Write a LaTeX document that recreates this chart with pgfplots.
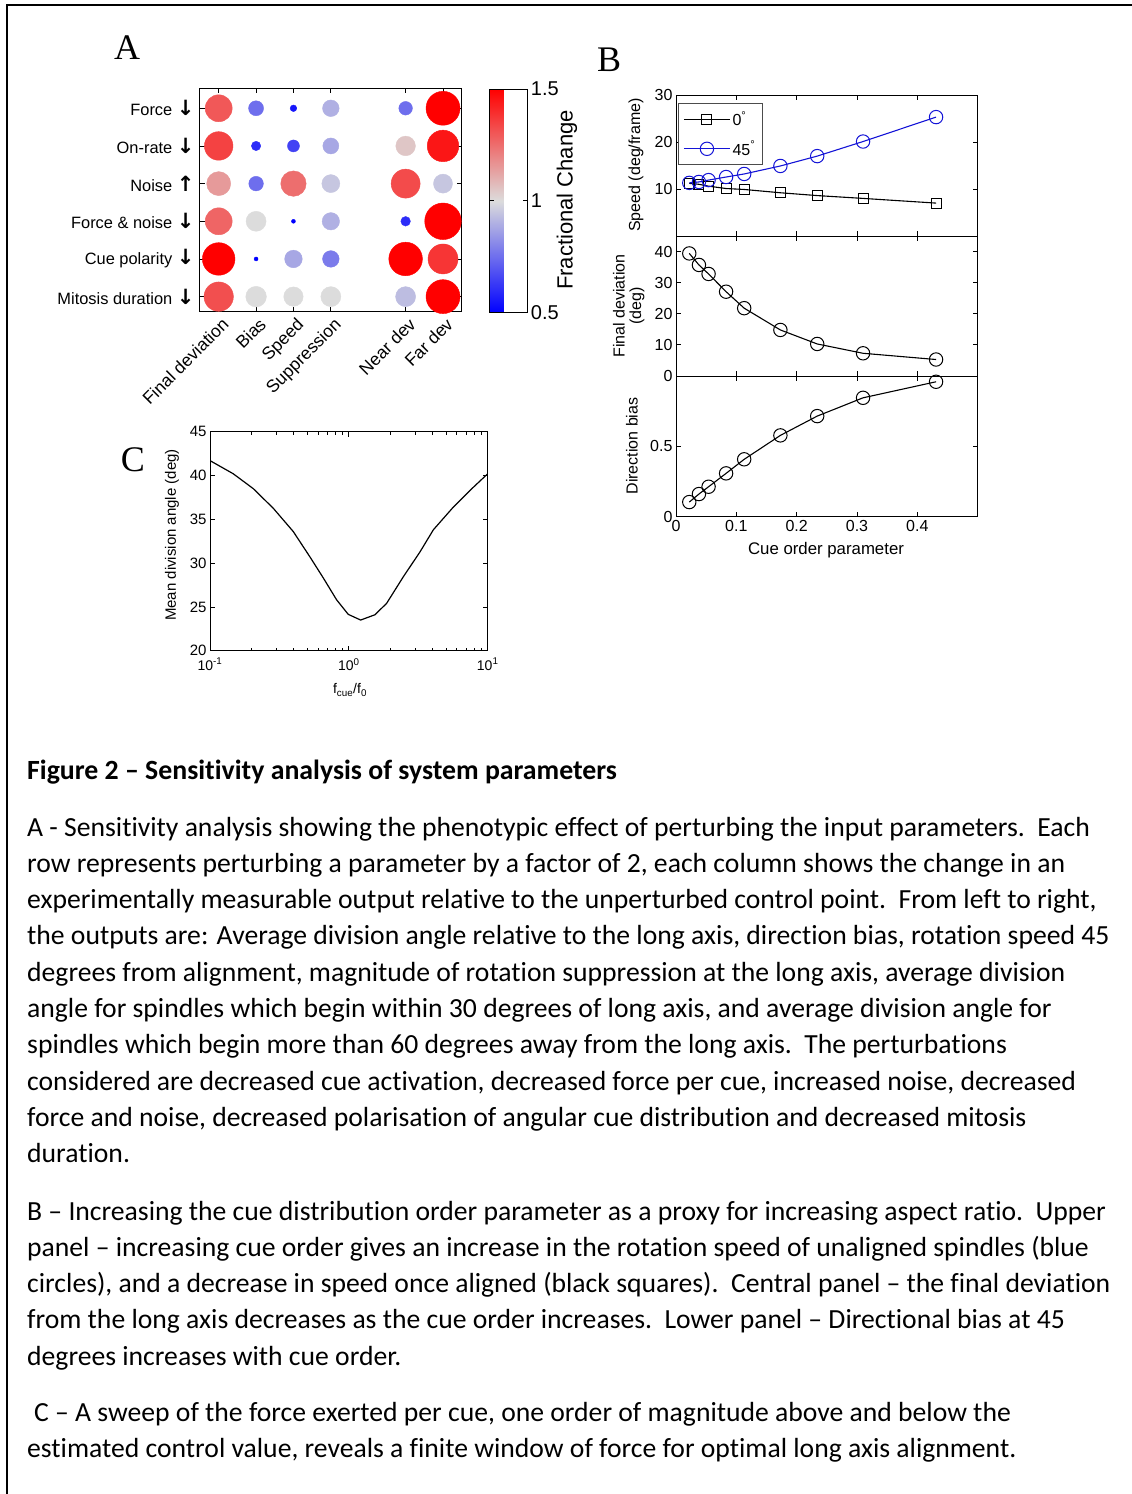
\documentclass[border=0pt]{standalone}
\usepackage{fontspec}
\setmainfont{Carlito}[Ligatures=NoCommon]
\newfontfamily\arial{Liberation Sans}
\newfontfamily\tnr{Liberation Serif}
\newfontfamily\dejavu{DejaVu Sans}
\usepackage{pgfplots}
\pgfplotsset{compat=1.18}
\usepackage{pgfplotstable}
\newcommand\af[1]{\arial\fontsize{#1}{#1}\selectfont}
\newcommand\dn{{\dejavu\bfseries\fontsize{21}{21}\selectfont ↓}}
\newcommand\up{{\dejavu\bfseries\fontsize{21}{21}\selectfont ↑}}
\newcommand\capl[3]{\node[anchor=base west,inner sep=0pt,font=\fontsize{27.65}{36.3}\selectfont] at (#1pt,-#2pt) {#3};}
\definecolor{mblue}{RGB}{20,20,215}

\pgfplotstableread{
x y v r
1 1 1.30 13.5
2 1 0.75 7.5
3 1 0.55 3.3
4 1 0.90 8.3
6 1 0.75 6.8
7 1 1.60 17
1 2 1.35 14.3
2 2 0.60 4.7
3 2 0.65 6
4 2 0.88 8
6 2 1.05 9.8
7 2 1.45 15.8
1 3 1.15 12
2 3 0.75 7.3
3 3 1.25 12.7
4 3 0.95 9
6 3 1.33 14.5
7 3 0.95 9.5
1 4 1.27 13.5
2 4 1.00 10
3 4 0.50 2
4 4 0.90 8.7
6 4 0.60 4.8
7 4 1.60 18.3
1 5 1.50 16.3
2 5 0.50 2
3 5 0.88 8.8
4 5 0.78 8.3
6 5 1.50 16.8
7 5 1.38 15
1 6 1.32 14.7
2 6 1.00 10.3
3 6 1.00 9.7
4 6 1.00 10
6 6 0.93 10
7 6 1.50 17
}\bubbles

\pgfplotstableread{
x s0 s45 dev bias
0.022 11.2 11.3 39.4 0.104
0.038 11.0 11.5 35.7 0.161
0.054 10.6 11.9 32.8 0.213
0.083 10.1 12.55 27.1 0.308
0.113 9.9 13.2 21.8 0.408
0.173 9.2 14.9 14.8 0.578
0.234 8.6 17.0 10.3 0.715
0.310 8.0 20.1 7.3 0.845
0.431 7.0 25.3 5.3 0.959
}\Bdata

\pgfplotstableread{
f ang
0.1 41.7
0.147 40.2
0.205 38.5
0.286 36.25
0.398 33.6
0.525 30.7
0.655 28.3
0.817 25.8
0.99 24.15
1.216 23.5
1.54 24.1
1.87 25.4
2.47 28.45
3.26 31.3
4.06 33.8
5.66 36.4
7.46 38.3
10 40.2
}\Cdata

\pgfplotsset{
  /pgf/number format/assume math mode=true,
  colormap={bwr}{rgb255(0cm)=(0,0,255); rgb255(1cm)=(220,220,220); rgb255(2cm)=(255,0,0)},
  mstyle/.style={scale only axis, anchor=north west, axis line style={line width=1pt},
    tick style={line width=0.8pt, black}, major tick length=5pt, minor tick length=3pt,
    tick align=inside},
}

\begin{document}
\begin{tikzpicture}
\useasboundingbox (0,0) rectangle (1132pt,-1494pt);
\fill[white] (0,0) rectangle (1132pt,-1494pt);
\draw[line width=1.8pt] (6pt,-5pt) -- (1132pt,-5pt);
\draw[line width=1.8pt] (7pt,-5pt) -- (7pt,-1494pt);

% panel letters
\node[font=\tnr\fontsize{36}{36}\selectfont] at (127pt,-48pt) {A};
\node[font=\tnr\fontsize{36}{36}\selectfont] at (609pt,-60pt) {B};
\node[font=\tnr\fontsize{36}{36}\selectfont] at (133pt,-460pt) {C};

% Panel A
\begin{axis}[mstyle, at={(200pt,-88.3pt)}, width=261.7pt, height=223.4pt,
  xmin=0.5, xmax=7.5, ymin=0.47, ymax=6.4, y dir=reverse,
  xtick={1,2,3,4,6,7},
  xticklabels={Final deviation,Bias,Speed,Suppression,Near dev,Far dev},
  xticklabel style={rotate=45, anchor=north east, font=\af{17.5}, inner sep=2pt, yshift=-3pt},
  ytick={1,2,3,4,5,6},
  yticklabels={Force \dn,On-rate \dn,Noise \up,Force \& noise \dn,Cue polarity \dn,Mitosis duration \dn},
  yticklabel style={font=\af{16.4}, xshift=-2pt},
  point meta min=0.5, point meta max=1.5,
  colorbar,
  colorbar style={at={(parent axis.north east)}, anchor=north west, xshift=19.5pt, yshift=-0.7pt,
    scale only axis, width=37.7pt, height=223.7pt, ytick={0.5,1,1.5}, yticklabels={0.5,1,1.5},
    yticklabel style={font=\af{20}, xshift=0pt}, axis line style={line width=1pt},
    major tick length=4pt, tick style={black, line width=0.8pt}},
]
\addplot[scatter, only marks, mark=*, point meta=\thisrow{v},
  scatter/use mapped color={draw=mapped color, fill=mapped color},
  visualization depends on={\thisrow{r} \as \perpointmarksize},
  scatter/@pre marker code/.append style={/tikz/mark size=\perpointmarksize}]
  table[x=x, y=y] {\bubbles};
\end{axis}
\node[rotate=90, font=\af{22}] at (567pt,-200pt) {Fractional Change};

% Panel B top
\begin{axis}[mstyle, at={(676pt,-95pt)}, width=301.7pt, height=141pt,
  xmin=0, xmax=0.5, ymin=0, ymax=30, xtick={0,0.1,0.2,0.3,0.4}, xticklabels={},
  ytick={10,20,30}, yticklabel style={font=\af{16}},
  legend style={at={(0.0066,0.943)}, anchor=north west, draw=black!70, line width=0.8pt,
    font=\af{16}, row sep=10pt, inner xsep=5pt, inner ysep=6pt},
  legend cell align=left,
  legend image code/.code={\draw[mark repeat=2,mark phase=2,#1] plot coordinates {(0pt,0pt) (23pt,0pt) (46pt,0pt)};},
]
\addplot[black, line width=1.1pt, mark=square, mark size=5pt, mark options={fill=white, line width=1pt}]
  table[x=x, y=s0] {\Bdata};
\addlegendentry{0\textsuperscript{°}}
\addplot[mblue, line width=1.1pt, mark=o, mark size=6.7pt, mark options={fill=white, line width=1pt}]
  table[x=x, y=s45] {\Bdata};
\addlegendentry{45\textsuperscript{°}}
\end{axis}

% Panel B middle
\begin{axis}[mstyle, at={(676pt,-236pt)}, width=301.7pt, height=140pt,
  xmin=0, xmax=0.5, ymin=0, ymax=45, xtick={0,0.1,0.2,0.3,0.4}, xticklabels={},
  ytick={0,10,20,30,40}, yticklabel style={font=\af{16}}]
\addplot[black, line width=1.1pt, mark=o, mark size=6.7pt, mark options={fill=white, line width=1pt}]
  table[x=x, y=dev] {\Bdata};
\end{axis}

% Panel B bottom
\begin{axis}[mstyle, at={(676pt,-376pt)}, width=301.7pt, height=140.7pt,
  xmin=0, xmax=0.5, ymin=0, ymax=1, xtick={0,0.1,0.2,0.3,0.4},
  xticklabels={0,0.1,0.2,0.3,0.4}, xticklabel style={font=\af{16}},
  ytick={0,0.5,1}, yticklabels={0,0.5,{}}, yticklabel style={font=\af{16}}]
\addplot[black, line width=1.1pt, mark=o, mark size=6.7pt, mark options={fill=white, line width=1pt}]
  table[x=x, y=bias] {\Bdata};
\end{axis}
\node[rotate=90, font=\af{16}] at (636pt,-165pt) {Speed (deg/frame)};
\node[rotate=90, font=\af{16}] at (619pt,-306pt) {Final deviation};
\node[rotate=90, font=\af{16}] at (637pt,-306pt) {(deg)};
\node[rotate=90, font=\af{16}] at (632pt,-446pt) {Direction bias};
\node[font=\af{16.8}] at (826pt,-550pt) {Cue order parameter};

% Panel C
\begin{axis}[mstyle, at={(210pt,-431.7pt)}, width=277.7pt, height=219pt,
  xmode=log, xmin=0.1, xmax=10, ymin=20, ymax=45, ytick={20,25,30,35,40,45},
  xtick={0.1,1,10}, xticklabels={10\textsuperscript{-1},10\textsuperscript{0},10\textsuperscript{1}},
  xticklabel style={font=\af{14}, yshift=-4pt}, yticklabel style={font=\af{15}}]
\addplot[black, line width=1.2pt] table[x=f, y=ang] {\Cdata};
\end{axis}
\node[rotate=90, font=\af{15}] at (172pt,-535pt) {Mean division angle (deg)};
\node[font=\af{14}] at (350pt,-690pt) {f\textsubscript{cue}/f\textsubscript{0}};

% Caption
\node[anchor=base west,inner sep=0pt,font=\fontsize{27.8}{36.3}\selectfont\bfseries] at (27pt,-779pt) {Figure 2 – Sensitivity analysis of system parameters};
\capl{27}{836}{A - Sensitivity analysis showing the phenotypic effect of perturbing the input parameters.\ \ Each}
\capl{27}{872.3}{row represents perturbing a parameter by a factor of 2, each column shows the change in an}
\capl{27}{908.6}{experimentally measurable output relative to the unperturbed control point.\ \ From left to right,}
\capl{27}{944.9}{the outputs are: Average division angle relative to the long axis, direction bias, rotation speed 45}
\capl{27}{981.2}{degrees from alignment, magnitude of rotation suppression at the long axis, average division}
\capl{27}{1017.5}{angle for spindles which begin within 30 degrees of long axis, and average division angle for}
\capl{27}{1053.8}{spindles which begin more than 60 degrees away from the long axis.\ \ The perturbations}
\capl{27}{1090.1}{considered are decreased cue activation, decreased force per cue, increased noise, decreased}
\capl{27}{1126.4}{force and noise, decreased polarisation of angular cue distribution and decreased mitosis}
\capl{27}{1162.7}{duration.}
\capl{27}{1220}{B – Increasing the cue distribution order parameter as a proxy for increasing aspect ratio.\ \ Upper}
\capl{27}{1256.3}{panel – increasing cue order gives an increase in the rotation speed of unaligned spindles (blue}
\capl{27}{1292.6}{circles), and a decrease in speed once aligned (black squares).\ \ Central panel – the final deviation}
\capl{27}{1328.9}{from the long axis decreases as the cue order increases.\ \ Lower panel – Directional bias at 45}
\capl{27}{1365.2}{degrees increases with cue order.}
\capl{34}{1421}{C – A sweep of the force exerted per cue, one order of magnitude above and below the}
\capl{27}{1457.3}{estimated control value, reveals a finite window of force for optimal long axis alignment.}
\end{tikzpicture}
\end{document}
